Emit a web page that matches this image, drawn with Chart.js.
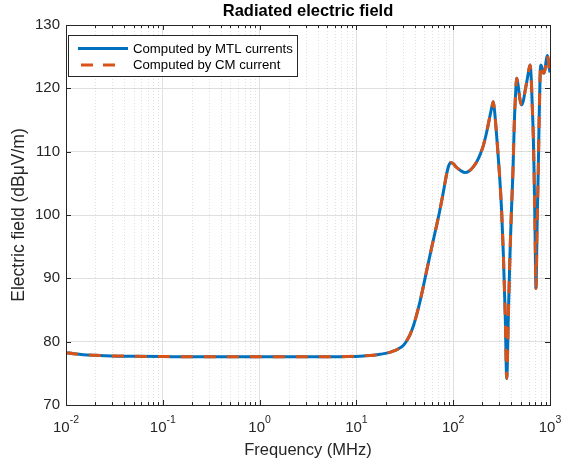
<!DOCTYPE html>
<html>
<head>
<meta charset="utf-8">
<script src="https://cdn.jsdelivr.net/npm/chart.js@4.4.1/dist/chart.umd.min.js"></script>
<style>
html,body{margin:0;padding:0;background:#fff;}
#c{display:block;}
</style>
</head>
<body>
<canvas id="c" width="570" height="461"></canvas>
<script>
// ---- data ----
const frequencyMHz = [0.01, 0.012, 0.015, 0.02, 0.03, 0.05, 0.1, 0.3, 1, 3, 8, 12, 15, 17.5, 20, 24, 27, 30.5, 33, 35.8, 39, 42, 45.5, 49.1, 53, 57.5, 62, 67.5, 72, 76, 81, 85.6, 90, 94.9, 100, 108.6, 120, 132.4, 145, 161.3, 175, 189.2, 205, 221.8, 233, 243.9, 252, 259.6, 268, 281.5, 298.7, 316, 329.3, 345, 357.1, 372, 386.3, 400, 414.8, 427.8, 440, 452.9, 470.5, 489.8, 510, 530, 551.6, 575, 596.8, 621.6, 640, 656.2, 672, 684, 700, 716.3, 736, 756.6, 772, 788.1, 801, 812, 826.8, 845, 866.6, 888, 909.3, 937.6, 958, 976.6, 1000];
const fieldMTL = [78.25, 78.1, 77.95, 77.85, 77.75, 77.7, 77.65, 77.6, 77.6, 77.6, 77.65, 77.75, 77.85, 78.0, 78.15, 78.5, 78.85, 79.4, 80.1, 81.1, 82.6, 84.3, 86.4, 88.7, 91.1, 93.6, 95.9, 98.4, 100.4, 102.2, 104.5, 106.5, 107.8, 108.3, 108.1, 107.5, 107.0, 106.7, 106.9, 107.6, 108.4, 109.5, 111.0, 113.1, 114.7, 116.2, 117.2, 117.9, 116.3, 112.4, 107.1, 100.8, 94.0, 84.0, 74.2, 84.5, 94.0, 100.8, 107.1, 114.5, 118.8, 121.6, 120.3, 118.2, 117.4, 118.0, 119.5, 121.0, 122.4, 123.7, 121.6, 117.1, 112.5, 107.1, 98.0, 88.4, 98.5, 107.1, 115.0, 121.3, 123.7, 123.6, 123.1, 122.5, 122.4, 123.0, 124.2, 125.2, 124.6, 123.4, 122.5];
const fieldCM = [78.25, 78.1, 77.95, 77.85, 77.75, 77.7, 77.65, 77.6, 77.6, 77.6, 77.65, 77.75, 77.85, 78.0, 78.15, 78.5, 78.85, 79.4, 80.1, 81.1, 82.6, 84.3, 86.4, 88.7, 91.1, 93.6, 95.9, 98.4, 100.4, 102.2, 104.5, 106.5, 107.8, 108.3, 108.1, 107.5, 107.0, 106.7, 106.9, 107.6, 108.4, 109.5, 111.0, 113.1, 114.7, 116.2, 117.2, 117.9, 116.3, 112.4, 107.1, 100.8, 94.0, 84.0, 74.2, 84.5, 94.0, 100.8, 107.1, 114.5, 118.8, 121.6, 120.3, 118.2, 117.4, 118.0, 119.5, 121.0, 122.4, 123.7, 121.6, 117.1, 112.5, 107.1, 98.0, 88.4, 98.5, 107.1, 115.0, 121.3, 123.7, 123.6, 123.1, 122.5, 122.4, 123.0, 124.2, 125.2, 124.6, 123.4, 122.5];
const seriesNames = ['Computed by MTL currents', 'Computed by CM current'];
const xTickValues = [0.01, 0.1, 1, 10, 100, 1000];
const xTickExponents = ['-2', '-1', '0', '1', '2', '3'];
const yTickValues = [70, 80, 90, 100, 110, 120, 130];
const chartTitle = 'Radiated electric field';
const xAxisTitle = 'Frequency (MHz)';
const yAxisTitle = 'Electric field (dB\u03bcV/m)';

// ---- styles ----
const FONT = '"Liberation Sans", Arial, Helvetica, sans-serif';
const AX = '#262626';
const BLUE = '#0072BD';
const ORANGE = '#D95319';

const toPts = (xs, ys) => xs.map((x, i) => ({x: x, y: ys[i]}));

const matlabPlugin = {
  id: 'matlabAxes',
  beforeDatasetsDraw(chart) {
    const {ctx, chartArea: a, scales: {x, y}} = chart;
    ctx.save();
    ctx.strokeStyle = 'rgba(38,38,38,0.14)';
    ctx.lineWidth = 1;
    ctx.setLineDash([1, 2]);
    for (let d = 0; d < xTickValues.length - 1; d++) {
      for (let m = 2; m <= 9; m++) {
        const px = Math.round(x.getPixelForValue(xTickValues[d] * m)) + 0.5;
        ctx.beginPath();
        ctx.moveTo(px, a.top);
        ctx.lineTo(px, a.bottom);
        ctx.stroke();
      }
    }
    ctx.restore();
  },
  afterDraw(chart) {
    const {ctx, chartArea: a, scales: {x, y}} = chart;
    ctx.save();
    ctx.strokeStyle = AX;
    ctx.lineWidth = 1;
    ctx.setLineDash([]);
    // box
    ctx.strokeRect(Math.round(a.left) + 0.5, Math.round(a.top) + 0.5, Math.round(a.right - a.left), Math.round(a.bottom - a.top));
    // x ticks (inside, bottom and top)
    ctx.beginPath();
    for (let d = 0; d < xTickValues.length; d++) {
      const px = Math.round(x.getPixelForValue(xTickValues[d])) + 0.5;
      ctx.moveTo(px, a.bottom); ctx.lineTo(px, a.bottom - 5);
      ctx.moveTo(px, a.top); ctx.lineTo(px, a.top + 5);
      if (d < xTickValues.length - 1) {
        for (let m = 2; m <= 9; m++) {
          const qx = Math.round(x.getPixelForValue(xTickValues[d] * m)) + 0.5;
          ctx.moveTo(qx, a.bottom); ctx.lineTo(qx, a.bottom - 3);
          ctx.moveTo(qx, a.top); ctx.lineTo(qx, a.top + 3);
        }
      }
    }
    // y ticks (inside, left and right)
    yTickValues.forEach(v => {
      const py = Math.round(y.getPixelForValue(v)) + 0.5;
      ctx.moveTo(a.left, py); ctx.lineTo(a.left + 5, py);
      ctx.moveTo(a.right, py); ctx.lineTo(a.right - 5, py);
    });
    ctx.stroke();

    // x tick labels: 10 with raised exponent
    ctx.fillStyle = AX;
    ctx.textBaseline = 'alphabetic';
    ctx.textAlign = 'left';
    xTickValues.forEach((v, i) => {
      const px = x.getPixelForValue(v);
      ctx.font = '15px ' + FONT;
      const wb = ctx.measureText('10').width;
      ctx.font = '10.5px ' + FONT;
      const we = ctx.measureText(xTickExponents[i]).width;
      const sx = px - (wb + we) / 2;
      ctx.font = '15px ' + FONT;
      ctx.fillText('10', sx, 432);
      ctx.font = '10.5px ' + FONT;
      ctx.fillText(xTickExponents[i], sx + wb, 423);
    });

    // legend
    const lx = 68.5, ly = 35.5, lw = 229, lh = 41;
    ctx.fillStyle = '#ffffff';
    ctx.fillRect(lx, ly, lw, lh);
    ctx.strokeStyle = AX;
    ctx.lineWidth = 1;
    ctx.strokeRect(lx, ly, lw, lh);
    const ds = chart.data.datasets;
    const rows = [48.5, 65];
    ds.forEach((d, i) => {
      ctx.strokeStyle = d.borderColor;
      ctx.lineWidth = 3;
      ctx.setLineDash(i === 1 ? [12, 10] : []);
      ctx.beginPath();
      if (i === 1) { ctx.moveTo(81, rows[i]); ctx.lineTo(115, rows[i]); }
      else { ctx.moveTo(78, rows[i]); ctx.lineTo(128, rows[i]); }
      ctx.stroke();
      ctx.setLineDash([]);
      ctx.fillStyle = '#000';
      ctx.font = '13.2px ' + FONT;
      ctx.textBaseline = 'middle';
      ctx.fillText(d.label, 133, rows[i] + 0.5);
    });
    ctx.restore();
  }
};

new Chart(document.getElementById('c'), {
  type: 'line',
  data: {
    datasets: [
      {label: seriesNames[0], data: toPts(frequencyMHz, fieldMTL), borderColor: BLUE, backgroundColor: BLUE,
       borderWidth: 3, pointRadius: 0, cubicInterpolationMode: 'monotone', order: 2},
      {label: seriesNames[1], data: toPts(frequencyMHz, fieldCM), borderColor: ORANGE, backgroundColor: ORANGE,
       borderWidth: 3, borderDash: [12, 11], pointRadius: 0, cubicInterpolationMode: 'monotone', order: 1}
    ]
  },
  options: {
    responsive: false,
    animation: false,
    devicePixelRatio: 1,
    layout: {padding: {left: 0, right: 20, top: 0, bottom: 0}},
    plugins: {
      legend: {display: false},
      tooltip: {enabled: false},
      title: {display: true, text: chartTitle, fullSize: false, color: '#000',
              font: {family: FONT, size: 16.5, weight: 'bold'}, padding: {top: 2, bottom: 3.2}}
    },
    scales: {
      x: {
        type: 'logarithmic', min: 0.01, max: 1000,
        afterBuildTicks: s => { s.ticks = xTickValues.map(v => ({value: v, major: true})); },
        afterFit: s => { s.height = 56; },
        ticks: {display: false},
        grid: {color: '#e0e0e0', lineWidth: 1, drawTicks: false},
        border: {display: false},
        title: {display: true, text: xAxisTitle, color: AX, font: {family: FONT, size: 16.5}, padding: {top: 0, bottom: 1}}
      },
      y: {
        type: 'linear', min: 70, max: 130,
        afterBuildTicks: s => { s.ticks = yTickValues.map(v => ({value: v})); },
        afterFit: s => { s.width = 66; },
        ticks: {color: AX, font: {family: FONT, size: 15}, padding: 6},
        grid: {color: '#e0e0e0', lineWidth: 1, drawTicks: false},
        border: {display: false},
        title: {display: true, text: yAxisTitle, color: AX, font: {family: FONT, size: 17.5}, padding: {top: 8.5, bottom: 0}}
      }
    }
  },
  plugins: [matlabPlugin]
});
</script>
</body>
</html>
